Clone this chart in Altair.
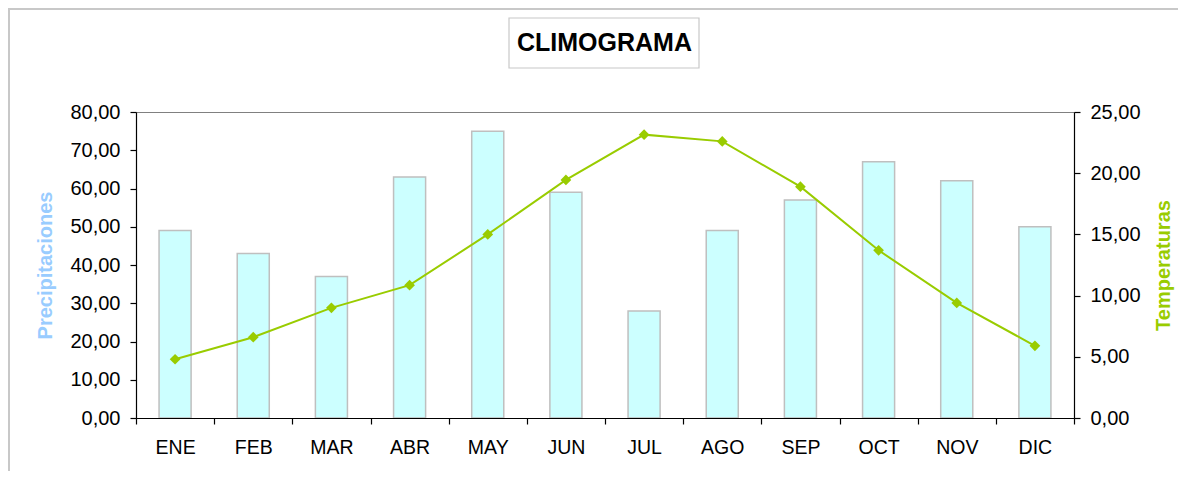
import altair as alt
import pandas as pd

meses = ["ENE", "FEB", "MAR", "ABR", "MAY", "JUN", "JUL", "AGO", "SEP", "OCT", "NOV", "DIC"]
precipitaciones = [49, 43, 37, 63, 75, 59, 28, 49, 57, 67, 62, 50]
temperaturas = [4.8, 6.6, 9.0, 10.85, 15.0, 19.45, 23.15, 22.6, 18.9, 13.7, 9.4, 5.9]
ticks_precip = [0, 10, 20, 30, 40, 50, 60, 70, 80]
ticks_temp = [0, 5, 10, 15, 20, 25]
titulo = ["CLIMOGRAMA"]

df = pd.DataFrame({"mes": meses, "precip": precipitaciones, "temp": temperaturas})
one = pd.DataFrame({"t": titulo})

W, H = 938, 306
FONT = "Liberation Sans"
fmt = "replace(format(datum.value, '.2f'), '.', ',')"

x = alt.X(
    "mes:N", sort=meses, title=None,
    scale=alt.Scale(paddingInner=0, paddingOuter=0),
    axis=alt.Axis(labelAngle=0, tickBand="extent", tickSize=6, labelPadding=14,
                  labelFontSize=19.5, zindex=1),
)

frame = alt.Chart(one).mark_rect(fillOpacity=0, stroke="#C8C8C8", strokeWidth=2).encode(
    x=alt.value(-127), x2=alt.value(W + 150), y=alt.value(-103), y2=alt.value(H + 120)
)

bars = alt.Chart(df).mark_bar(
    fill="#CCFFFF", stroke="#BFBFBF", strokeWidth=1.5, width=alt.RelativeBandSize(0.41)
).encode(
    x=x,
    y=alt.Y(
        "precip:Q",
        scale=alt.Scale(domain=[0, 80], nice=False),
        axis=alt.Axis(values=ticks_precip, labelExpr=fmt, grid=False, tickSize=6,
                      labelPadding=10, labelFontSize=20, zindex=1,
                      title="Precipitaciones", titleColor="#99CCFF", titleFontWeight="bold",
                      titleFontSize=20, titleX=-91, titleY=H / 2, titleAngle=270,
                      titleAlign="center", titleBaseline="middle"),
    ),
)

line = alt.Chart(df).mark_line(
    color="#99CC00", strokeWidth=2,
    point=alt.OverlayMarkDef(shape="diamond", size=115, filled=True, color="#99CC00"),
).encode(
    x=x,
    y=alt.Y(
        "temp:Q",
        scale=alt.Scale(domain=[0, 25], nice=False),
        axis=alt.Axis(orient="right", values=ticks_temp, labelExpr=fmt, grid=False, tickSize=6,
                      labelPadding=10, labelFontSize=20, zindex=1,
                      title="Temperaturas", titleColor="#99CC00", titleFontWeight="bold",
                      titleFontSize=20, titleX=89, titleY=H / 2, titleAngle=270,
                      titleAlign="center", titleBaseline="middle"),
    ),
)

title_box = alt.Chart(one).mark_rect(fill="white", stroke="#C8C8C8", strokeWidth=1.2).encode(
    x=alt.value(373), x2=alt.value(563), y=alt.value(-94), y2=alt.value(-44)
)
title_text = alt.Chart(one).mark_text(
    font=FONT, fontSize=25, fontWeight="bold", color="black", align="center", baseline="middle"
).encode(text="t:N", x=alt.value(468.5), y=alt.value(-69))

chart = alt.layer(frame, bars, line, title_box, title_text).resolve_scale(
    y="independent"
).properties(
    width=W, height=H,
    autosize=alt.AutoSizeParams(type="none"),
    padding={"left": 128, "top": 104, "right": 104, "bottom": 53},
    background="white",
).configure_view(
    stroke="#808080", strokeWidth=1
).configure_axis(
    labelFont=FONT, titleFont=FONT, domainColor="black", tickColor="black",
    labelColor="black", domainWidth=1.2, tickWidth=1.2
)

chart.save("out.html", embed_options={"renderer": "svg", "actions": False})
